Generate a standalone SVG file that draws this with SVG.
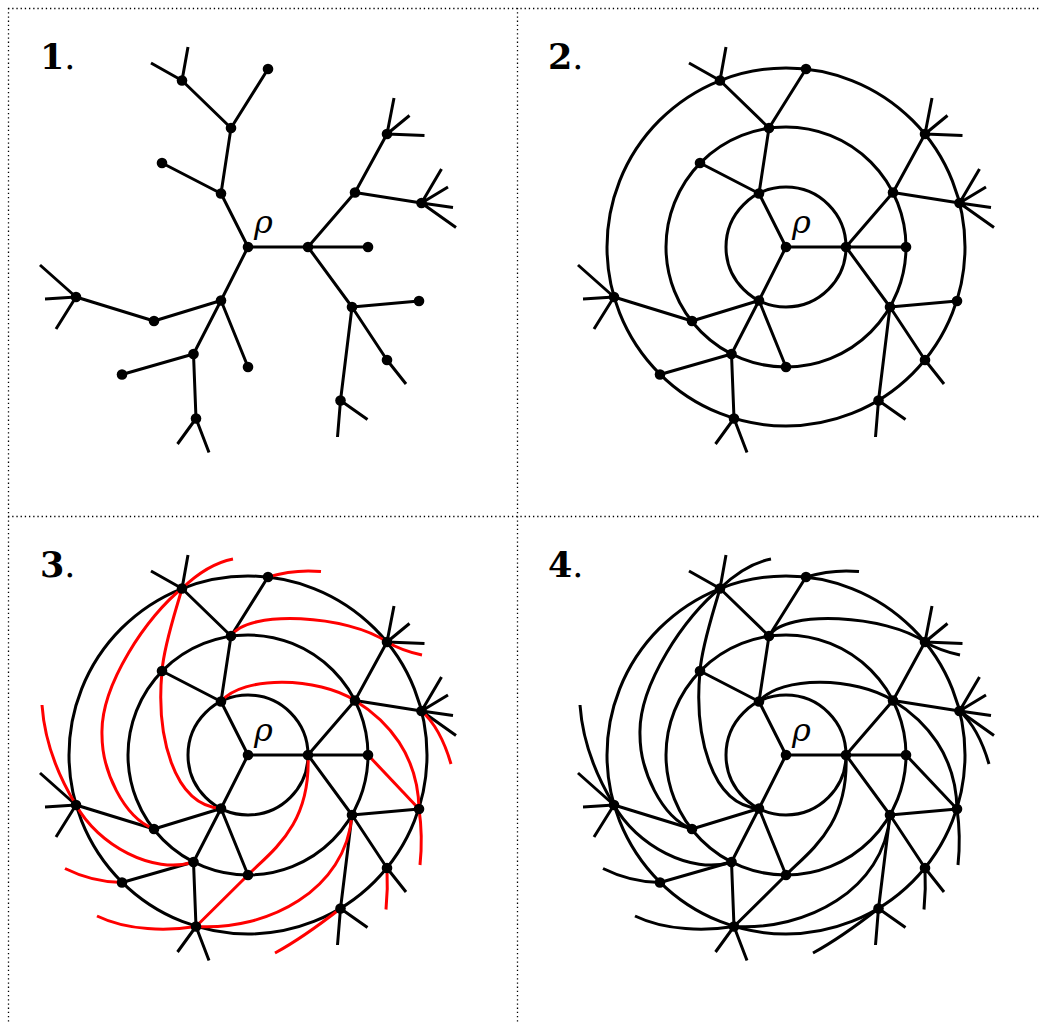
<svg xmlns="http://www.w3.org/2000/svg" xmlns:xlink="http://www.w3.org/1999/xlink" width="1045" height="1023" viewBox="0 0 1045 1023">
<style>
.frame{stroke:#000;stroke-width:1.3;stroke-dasharray:1.3 2.9;fill:none}
.edge{stroke:#000;stroke-width:3;fill:none;stroke-linecap:butt}
.ring{stroke:#000;stroke-width:3;fill:none}
.curve{stroke-width:3;fill:none}
.node circle{fill:#000}
.lbl{font-family:"DejaVu Serif","Liberation Serif",serif;font-size:35px;fill:#000}
.rho{font-family:"DejaVu Serif","Liberation Serif",serif;font-style:italic;font-size:32px;fill:#000}
</style>
<defs>
<path id="tree" class="edge" d="M0,0 L60,0 M0,0 L-27,-53.5 M0,0 L-27,53.5 M60,0 L120,0 M60,0 L107,-54.5 M60,0 L104,60 M107,-54.5 L139,-113 M107,-54.5 L173.5,-44 M104,60 L171,54 M104,60 L139,113 M104,60 L92.5,153.5 M-27,-53.5 L-86,-84 M-27,-53.5 L-17,-119 M-17,-119 L20,-178 M-17,-119 L-66,-166.5 M-27,53.5 L-94,74 M-27,53.5 L-54.5,107 M-27,53.5 L0,120 M-94,74 L-172,50 M-54.5,107 L-126,127.5 M-54.5,107 L-52,171.5 M-66,-166.5 L-60,-200 M-66,-166.5 L-97,-184 M139,-113 L146,-149 M139,-113 L161.5,-131.5 M139,-113 L176.5,-111.5 M173.5,-44 L193.5,-78 M173.5,-44 L200,-60 M173.5,-44 L205,-39.5 M173.5,-44 L208,-19.5 M139,113 L158,137 M92.5,153.5 L89.5,190 M92.5,153.5 L119.5,172.5 M-172,50 L-208,18 M-172,50 L-203,52 M-172,50 L-192,82 M-52,171.5 L-70.5,197 M-52,171.5 L-39,205.5"/>
<g id="rings" class="ring">
<circle cx="0" cy="0" r="60"/>
<circle cx="0" cy="0" r="120"/>
<circle cx="0" cy="0" r="179"/>
</g>
<g id="spiral" class="curve">
<path d="M-66,-166.5 Q-40.5,-191 -15,-196"/>
<path d="M20,-178 Q46,-186 73,-183.5"/>
<path d="M-17,-119 C0,-146 100,-140 139,-113 Q154.5,-104 174,-100"/>
<path d="M-27,-53.5 C-5,-80 70,-78 107,-54.5 C140,-34 170,0 171,54"/>
<path d="M173.5,-44 Q192.6,-27 203,9"/>
<path d="M120,0 L171,54"/>
<path d="M171,54 Q175,81 172,110"/>
<path d="M139,113 Q140,134 138,154.5"/>
<path d="M60,0 C63,70 24.7,95.3 0,120 L-52,171.5"/>
<path d="M104,60 C98,135 20,176 -52,171.5"/>
<path d="M-52,171.5 C-80,176 -120,176 -151,161"/>
<path d="M92.5,153.5 Q54.6,183 27,198"/>
<path d="M-27,53.5 C-75,50 -92,-20 -86,-84 C-84,-110 -72,-145 -66,-166.5"/>
<path d="M-66,-166.5 C-100,-140 -148,-70 -146,-20 C-146,15 -125,62 -94,74"/>
<path d="M-206,-50 Q-202.5,0 -172,50 C-150,90 -95,120 -54.5,107"/>
<path d="M-183,113.5 Q-155.5,127.2 -126,127.5"/>
</g>
</defs>
<g id="frame" class="frame">
<line x1="8" y1="8.5" x2="1040" y2="8.5"/>
<line x1="8.5" y1="8" x2="8.5" y2="1023"/>
<line x1="517.5" y1="8" x2="517.5" y2="1023"/>
<line x1="8" y1="516.5" x2="1040" y2="516.5"/>
</g>
<g id="labels">
<text class="lbl" x="40" y="69"><tspan font-weight="bold">1</tspan>.</text>
<text class="lbl" x="548" y="69"><tspan font-weight="bold">2</tspan>.</text>
<text class="lbl" x="40" y="577"><tspan font-weight="bold">3</tspan>.</text>
<text class="lbl" x="548" y="577"><tspan font-weight="bold">4</tspan>.</text>
<text class="rho" x="254" y="233">ρ</text>
<text class="rho" x="792" y="233">ρ</text>
<text class="rho" x="254" y="741">ρ</text>
<text class="rho" x="792" y="741">ρ</text>
</g>
<g id="connectors">
<use xlink:href="#tree" transform="translate(248,247)"/>
<use xlink:href="#rings" transform="translate(786,247)"/>
<use xlink:href="#tree" transform="translate(786,247)"/>
<use xlink:href="#rings" transform="translate(248,755)"/>
<use xlink:href="#tree" transform="translate(248,755)"/>
<use xlink:href="#spiral" transform="translate(248,755)" stroke="#ff0000"/>
<use xlink:href="#rings" transform="translate(786,755)"/>
<use xlink:href="#tree" transform="translate(786,755)"/>
<use xlink:href="#spiral" transform="translate(786,755)" stroke="#000000"/>
</g>
<g id="nodes-p1" transform="translate(248,247)">
<g id="p1-rho" class="node"><circle cx="0" cy="0" r="5.3"/></g>
<g id="p1-i0" class="node"><circle cx="60" cy="0" r="5.3"/></g>
<g id="p1-i1" class="node"><circle cx="-27" cy="-53.5" r="5.3"/></g>
<g id="p1-i2" class="node"><circle cx="-27" cy="53.5" r="5.3"/></g>
<g id="p1-m0" class="node"><circle cx="120" cy="0" r="5.3"/></g>
<g id="p1-m1" class="node"><circle cx="107" cy="-54.5" r="5.3"/></g>
<g id="p1-m2" class="node"><circle cx="104" cy="60" r="5.3"/></g>
<g id="p1-m3" class="node"><circle cx="-17" cy="-119" r="5.3"/></g>
<g id="p1-m4" class="node"><circle cx="-86" cy="-84" r="5.3"/></g>
<g id="p1-m5" class="node"><circle cx="-94" cy="74" r="5.3"/></g>
<g id="p1-m6" class="node"><circle cx="-54.5" cy="107" r="5.3"/></g>
<g id="p1-m7" class="node"><circle cx="0" cy="120" r="5.3"/></g>
<g id="p1-o0" class="node"><circle cx="20" cy="-178" r="5.3"/></g>
<g id="p1-o1" class="node"><circle cx="-66" cy="-166.5" r="5.3"/></g>
<g id="p1-o2" class="node"><circle cx="139" cy="-113" r="5.3"/></g>
<g id="p1-o3" class="node"><circle cx="173.5" cy="-44" r="5.3"/></g>
<g id="p1-o4" class="node"><circle cx="171" cy="54" r="5.3"/></g>
<g id="p1-o5" class="node"><circle cx="139" cy="113" r="5.3"/></g>
<g id="p1-o6" class="node"><circle cx="92.5" cy="153.5" r="5.3"/></g>
<g id="p1-o7" class="node"><circle cx="-172" cy="50" r="5.3"/></g>
<g id="p1-o8" class="node"><circle cx="-126" cy="127.5" r="5.3"/></g>
<g id="p1-o9" class="node"><circle cx="-52" cy="171.5" r="5.3"/></g>
</g>
<g id="nodes-p2" transform="translate(786,247)">
<g id="p2-rho" class="node"><circle cx="0" cy="0" r="5.3"/></g>
<g id="p2-i0" class="node"><circle cx="60" cy="0" r="5.3"/></g>
<g id="p2-i1" class="node"><circle cx="-27" cy="-53.5" r="5.3"/></g>
<g id="p2-i2" class="node"><circle cx="-27" cy="53.5" r="5.3"/></g>
<g id="p2-m0" class="node"><circle cx="120" cy="0" r="5.3"/></g>
<g id="p2-m1" class="node"><circle cx="107" cy="-54.5" r="5.3"/></g>
<g id="p2-m2" class="node"><circle cx="104" cy="60" r="5.3"/></g>
<g id="p2-m3" class="node"><circle cx="-17" cy="-119" r="5.3"/></g>
<g id="p2-m4" class="node"><circle cx="-86" cy="-84" r="5.3"/></g>
<g id="p2-m5" class="node"><circle cx="-94" cy="74" r="5.3"/></g>
<g id="p2-m6" class="node"><circle cx="-54.5" cy="107" r="5.3"/></g>
<g id="p2-m7" class="node"><circle cx="0" cy="120" r="5.3"/></g>
<g id="p2-o0" class="node"><circle cx="20" cy="-178" r="5.3"/></g>
<g id="p2-o1" class="node"><circle cx="-66" cy="-166.5" r="5.3"/></g>
<g id="p2-o2" class="node"><circle cx="139" cy="-113" r="5.3"/></g>
<g id="p2-o3" class="node"><circle cx="173.5" cy="-44" r="5.3"/></g>
<g id="p2-o4" class="node"><circle cx="171" cy="54" r="5.3"/></g>
<g id="p2-o5" class="node"><circle cx="139" cy="113" r="5.3"/></g>
<g id="p2-o6" class="node"><circle cx="92.5" cy="153.5" r="5.3"/></g>
<g id="p2-o7" class="node"><circle cx="-172" cy="50" r="5.3"/></g>
<g id="p2-o8" class="node"><circle cx="-126" cy="127.5" r="5.3"/></g>
<g id="p2-o9" class="node"><circle cx="-52" cy="171.5" r="5.3"/></g>
</g>
<g id="nodes-p3" transform="translate(248,755)">
<g id="p3-rho" class="node"><circle cx="0" cy="0" r="5.3"/></g>
<g id="p3-i0" class="node"><circle cx="60" cy="0" r="5.3"/></g>
<g id="p3-i1" class="node"><circle cx="-27" cy="-53.5" r="5.3"/></g>
<g id="p3-i2" class="node"><circle cx="-27" cy="53.5" r="5.3"/></g>
<g id="p3-m0" class="node"><circle cx="120" cy="0" r="5.3"/></g>
<g id="p3-m1" class="node"><circle cx="107" cy="-54.5" r="5.3"/></g>
<g id="p3-m2" class="node"><circle cx="104" cy="60" r="5.3"/></g>
<g id="p3-m3" class="node"><circle cx="-17" cy="-119" r="5.3"/></g>
<g id="p3-m4" class="node"><circle cx="-86" cy="-84" r="5.3"/></g>
<g id="p3-m5" class="node"><circle cx="-94" cy="74" r="5.3"/></g>
<g id="p3-m6" class="node"><circle cx="-54.5" cy="107" r="5.3"/></g>
<g id="p3-m7" class="node"><circle cx="0" cy="120" r="5.3"/></g>
<g id="p3-o0" class="node"><circle cx="20" cy="-178" r="5.3"/></g>
<g id="p3-o1" class="node"><circle cx="-66" cy="-166.5" r="5.3"/></g>
<g id="p3-o2" class="node"><circle cx="139" cy="-113" r="5.3"/></g>
<g id="p3-o3" class="node"><circle cx="173.5" cy="-44" r="5.3"/></g>
<g id="p3-o4" class="node"><circle cx="171" cy="54" r="5.3"/></g>
<g id="p3-o5" class="node"><circle cx="139" cy="113" r="5.3"/></g>
<g id="p3-o6" class="node"><circle cx="92.5" cy="153.5" r="5.3"/></g>
<g id="p3-o7" class="node"><circle cx="-172" cy="50" r="5.3"/></g>
<g id="p3-o8" class="node"><circle cx="-126" cy="127.5" r="5.3"/></g>
<g id="p3-o9" class="node"><circle cx="-52" cy="171.5" r="5.3"/></g>
</g>
<g id="nodes-p4" transform="translate(786,755)">
<g id="p4-rho" class="node"><circle cx="0" cy="0" r="5.3"/></g>
<g id="p4-i0" class="node"><circle cx="60" cy="0" r="5.3"/></g>
<g id="p4-i1" class="node"><circle cx="-27" cy="-53.5" r="5.3"/></g>
<g id="p4-i2" class="node"><circle cx="-27" cy="53.5" r="5.3"/></g>
<g id="p4-m0" class="node"><circle cx="120" cy="0" r="5.3"/></g>
<g id="p4-m1" class="node"><circle cx="107" cy="-54.5" r="5.3"/></g>
<g id="p4-m2" class="node"><circle cx="104" cy="60" r="5.3"/></g>
<g id="p4-m3" class="node"><circle cx="-17" cy="-119" r="5.3"/></g>
<g id="p4-m4" class="node"><circle cx="-86" cy="-84" r="5.3"/></g>
<g id="p4-m5" class="node"><circle cx="-94" cy="74" r="5.3"/></g>
<g id="p4-m6" class="node"><circle cx="-54.5" cy="107" r="5.3"/></g>
<g id="p4-m7" class="node"><circle cx="0" cy="120" r="5.3"/></g>
<g id="p4-o0" class="node"><circle cx="20" cy="-178" r="5.3"/></g>
<g id="p4-o1" class="node"><circle cx="-66" cy="-166.5" r="5.3"/></g>
<g id="p4-o2" class="node"><circle cx="139" cy="-113" r="5.3"/></g>
<g id="p4-o3" class="node"><circle cx="173.5" cy="-44" r="5.3"/></g>
<g id="p4-o4" class="node"><circle cx="171" cy="54" r="5.3"/></g>
<g id="p4-o5" class="node"><circle cx="139" cy="113" r="5.3"/></g>
<g id="p4-o6" class="node"><circle cx="92.5" cy="153.5" r="5.3"/></g>
<g id="p4-o7" class="node"><circle cx="-172" cy="50" r="5.3"/></g>
<g id="p4-o8" class="node"><circle cx="-126" cy="127.5" r="5.3"/></g>
<g id="p4-o9" class="node"><circle cx="-52" cy="171.5" r="5.3"/></g>
</g>
</svg>
